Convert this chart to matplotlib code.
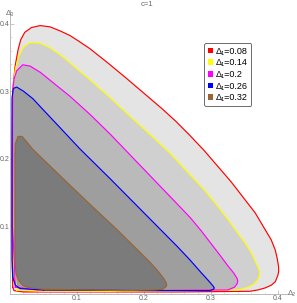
import numpy as np
import matplotlib.pyplot as plt
from matplotlib.patches import Patch

plt.rcParams['font.family'] = ['Liberation Sans', 'DejaVu Sans']

# boundary of each region (Delta2, Delta3)
red_x = [0.004, 0.003, 0.003, 0.004, 0.0075, 0.012, 0.016, 0.022, 0.032, 0.045, 0.060, 0.075, 0.090,
         0.104, 0.119, 0.147, 0.175, 0.201, 0.227, 0.248, 0.269, 0.290, 0.310, 0.330, 0.348, 0.366,
         0.381, 0.390, 0.396, 0.399, 0.401, 0.401, 0.400, 0.396, 0.390, 0.381, 0.370, 0.358,
         0.250, 0.120, 0.020, 0.006]
red_y = [0.010, 0.100, 0.200, 0.300, 0.336, 0.361, 0.376, 0.387, 0.394, 0.397, 0.395, 0.389, 0.382,
         0.373, 0.363, 0.341, 0.318, 0.296, 0.274, 0.255, 0.234, 0.212, 0.189, 0.166, 0.143, 0.120,
         0.095, 0.080, 0.065, 0.052, 0.040, 0.033, 0.028, 0.018, 0.013, 0.009, 0.006, 0.004,
         0.003, 0.003, 0.003, 0.005]

yel_x = [0.010, 0.005, 0.004, 0.004, 0.0075, 0.013, 0.020, 0.030, 0.045, 0.060, 0.080, 0.100, 0.118,
         0.134, 0.152, 0.180, 0.209, 0.240, 0.269, 0.290, 0.309, 0.327, 0.343, 0.352, 0.359, 0.365,
         0.370, 0.373, 0.372, 0.369, 0.363, 0.353, 0.340, 0.200, 0.050]
yel_y = [0.006, 0.050, 0.200, 0.300, 0.330, 0.352, 0.365, 0.372, 0.371, 0.364, 0.350, 0.333, 0.318,
         0.304, 0.288, 0.262, 0.236, 0.207, 0.176, 0.154, 0.131, 0.108, 0.086, 0.074, 0.063, 0.051,
         0.040, 0.032, 0.026, 0.020, 0.014, 0.009, 0.006, 0.004, 0.004]

mag_x = [0.008, 0.004, 0.004, 0.004, 0.006, 0.010, 0.019, 0.030, 0.045, 0.060, 0.090, 0.119, 0.150,
         0.179, 0.210, 0.243, 0.269, 0.285, 0.299, 0.313, 0.325, 0.334, 0.339, 0.340, 0.339, 0.335,
         0.325, 0.200, 0.040]
mag_y = [0.010, 0.100, 0.200, 0.300, 0.318, 0.330, 0.339, 0.337, 0.328, 0.316, 0.292, 0.266, 0.236,
         0.206, 0.174, 0.140, 0.113, 0.094, 0.076, 0.058, 0.042, 0.031, 0.023, 0.019, 0.015, 0.010,
         0.006, 0.005, 0.006]

blu_x = [0.050, 0.015, 0.008, 0.004, 0.003, 0.003, 0.003, 0.005, 0.010, 0.020, 0.034, 0.050, 0.070,
         0.104, 0.150, 0.182, 0.227, 0.250, 0.269, 0.285, 0.296, 0.303, 0.305, 0.304, 0.298, 0.200]
blu_y = [0.006, 0.008, 0.013, 0.025, 0.050, 0.200, 0.290, 0.304, 0.306, 0.300, 0.289, 0.272, 0.251,
         0.215, 0.170, 0.138, 0.093, 0.070, 0.050, 0.032, 0.020, 0.012, 0.009, 0.007, 0.005, 0.005]

brn_x = [0.050, 0.030, 0.020, 0.013, 0.009, 0.0075, 0.0075, 0.0075, 0.008, 0.012, 0.018, 0.025,
         0.034, 0.080, 0.119, 0.160, 0.209, 0.219, 0.228, 0.233, 0.234, 0.233, 0.228, 0.215, 0.169]
brn_y = [0.007, 0.009, 0.012, 0.020, 0.030, 0.050, 0.150, 0.205, 0.222, 0.233, 0.233, 0.225,
         0.214, 0.170, 0.133, 0.095, 0.047, 0.036, 0.025, 0.017, 0.014, 0.011, 0.007, 0.006, 0.005]

curves = [(red_x, red_y), (yel_x, yel_y), (mag_x, mag_y), (blu_x, blu_y), (brn_x, brn_y)]
labels = ['\u0394\u2081=0.08', '\u0394\u2081=0.14', '\u0394\u2081=0.2', '\u0394\u2081=0.26', '\u0394\u2081=0.32']
edge_colors = ['#ff0000', '#ffff00', '#ff00ff', '#0000ff', '#996633']
fill_colors = ['#e4e4e4', '#d0d0d0', '#bababa', '#9e9e9e', '#7b7b7b']

fig = plt.figure(figsize=(2.97, 3.03), dpi=100)
ax = fig.add_axes([10 / 297, 9 / 303, 278 / 297, 284 / 303])

for (xs, ys), ec, fc in zip(curves, edge_colors, fill_colors):
    ax.fill(xs, ys, color=fc, lw=0)
    ax.plot(xs + xs[:1], ys + ys[:1], color=ec, lw=0.85, solid_joinstyle='round')

ax.set_xlim(0, 0.415)
ax.set_ylim(0, 0.42)
for s in ['top', 'right']:
    ax.spines[s].set_visible(False)
for s in ['left', 'bottom']:
    ax.spines[s].set_color('#b0b0b0')
    ax.spines[s].set_linewidth(0.6)
ax.set_xticks([0.1, 0.2, 0.3, 0.4])
ax.set_yticks([0.1, 0.2, 0.3, 0.4])
ax.set_xticklabels(['0.1', '0.2', '0.3', '0.4'])
ax.set_yticklabels(['0.1', '0.2', '0.3', '0.4'])
ax.set_xticks(np.arange(0.02, 0.41, 0.02), minor=True)
ax.set_yticks(np.arange(0.02, 0.41, 0.02), minor=True)
ax.tick_params(which='major', direction='in', length=3, width=0.5, color='#b0b0b0',
               labelsize=5, labelcolor='#666666', pad=0.5)
ax.tick_params(which='minor', direction='in', length=1.5, width=0.4, color='#c8c8c8')

fig.text(147 / 297, 1 - 5 / 303, 'c=1', fontsize=5.5, color='#666666', ha='center', va='center')
fig.text(10 / 297, 1 - 13 / 303, '\u0394\u2083', fontsize=5.5, color='#666666', ha='center', va='center')
fig.text(292 / 297, 1 - 294 / 303, '\u0394\u2082', fontsize=5.5, color='#666666', ha='center', va='center')

handles = [Patch(facecolor=c, edgecolor='none') for c in edge_colors]
leg = fig.legend(handles, labels, loc='upper left', bbox_to_anchor=(204 / 297, 1 - 43 / 303),
                 fontsize=6.5, handlelength=0.6, handleheight=0.6, handletextpad=0.3,
                 labelspacing=0.3, borderpad=0.4, borderaxespad=0, fancybox=True,
                 framealpha=1, edgecolor='#555555')
leg.get_frame().set_linewidth(0.6)

fig.savefig('out.png', dpi=100)
